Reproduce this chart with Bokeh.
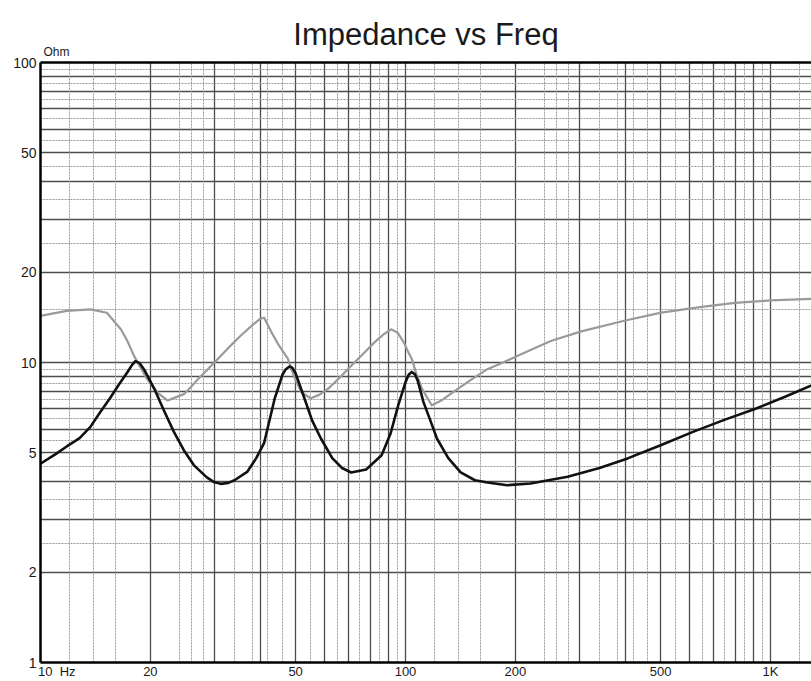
from bokeh.plotting import figure
from bokeh.models import FixedTicker, Grid, Range1d, LogAxis, Title
from bokeh.embed import file_html
from bokeh.resources import INLINE

# ---- data ----
freq_black = [10, 11, 11.8, 12.8, 13.7, 14.6, 15.5, 16.4, 17.3, 17.8, 18.2, 18.7,
              19.3, 20.5, 21.8, 23.2, 24.7, 26.3, 28.5, 29.8, 31.2, 32.7, 34, 36.9,
              39, 41, 43.8, 46, 47, 48.1, 49, 50, 52.9, 55.5, 58.7, 63,
              67, 71, 78, 86, 91, 95.5, 100, 102, 104, 106, 108, 112,
              117, 122, 131, 141.6, 155, 167.6, 190, 220, 278, 340,
              406, 500, 613, 750, 906, 1100, 1300]
imp_black = [4.6, 4.95, 5.25, 5.6, 6.1, 6.85, 7.6, 8.45, 9.28, 9.8, 10.1, 9.95,
             9.4, 8.17, 6.9, 5.87, 5.1, 4.55, 4.15, 4.0, 3.94, 3.97, 4.05, 4.33,
             4.8, 5.4, 7.57, 9.1, 9.5, 9.7, 9.6, 9.2, 7.57, 6.4, 5.57, 4.8,
             4.45, 4.3, 4.4, 4.91, 5.8, 7.2, 8.6, 9.1, 9.3, 9.15, 8.7, 7.38,
             6.4, 5.57, 4.8, 4.3, 4.05, 3.98, 3.9, 3.95, 4.16, 4.45,
             4.79, 5.3, 5.87, 6.45, 7.0, 7.7, 8.4]

freq_grey = [10, 11.8, 13.7, 15.2, 16.6, 17.3, 18.05, 19.6, 21, 22.3, 24.8,
             27, 29.95, 32.5, 35.4, 38, 40, 41, 42.8, 45, 47.6, 49.5,
             51.8, 55, 58, 61.3, 66, 71, 76, 82.2, 87, 91.3,
             95, 98.9, 101.5, 104, 107, 111, 118, 125, 135, 150,
             167.6, 185, 208, 250, 303, 400, 502, 640, 798, 1000, 1300]
imp_grey = [14.3, 14.86, 15.04, 14.65, 12.9, 11.8, 10.5, 8.8, 7.9, 7.47, 7.86,
            8.8, 10.0, 11.1, 12.3, 13.3, 14.0, 14.1, 12.7, 11.4, 10.3, 9.0,
            7.96, 7.6, 7.8, 8.17, 8.9, 9.76, 10.6, 11.67, 12.4, 12.9,
            12.6, 11.67, 10.9, 10.3, 9.2, 8.17, 7.2, 7.45, 7.96, 8.7,
            9.5, 10.0, 10.67, 11.8, 12.7, 13.8, 14.66, 15.3, 15.8, 16.1, 16.3]

x_tick_values = [10, 20, 50, 100, 200, 500, 1000]
x_tick_labels = ["\u00a0" * 9 + "10\u00a0\u00a0Hz", "20", "50", "100", "200", "500", "1K"]
y_tick_values = [1, 2, 5, 10, 20, 50, 100]
y_tick_labels = ["1", "2", "5", "10", "20", "50", "100"]

x_grid_major = [20, 30, 40, 50, 60, 70, 80, 90, 100, 200, 300, 400, 500,
                600, 700, 800, 900, 1000]
x_grid_minor = [12, 14, 16, 24, 26, 28, 34, 38, 42, 46, 55, 65, 75, 85, 95,
                120, 140, 160, 240, 260, 280, 340, 380, 420, 460, 550, 650,
                750, 850, 950, 1200]
y_grid_major = [2, 3, 4, 5, 6, 7, 8, 9, 10, 20, 30, 40, 50, 60, 70, 80, 90]
y_grid_minor = [2.5, 3.5, 4.5, 5.5, 6.5, 7.5, 8.5, 9.5, 15, 25, 35, 45, 55,
                65, 75, 85, 95]

FONT = "Liberation Sans"

p = figure(width=811, height=681, x_axis_type="log", y_axis_type="log",
           x_range=Range1d(10, 1295), y_range=Range1d(1, 100),
           output_backend="svg", toolbar_location=None,
           min_border_left=40, min_border_right=0,
           min_border_top=62, min_border_bottom=16,
           background_fill_color="white", border_fill_color="white")
p.outline_line_color = None

# title
p.title.text = "Impedance vs Freq"
p.title.align = "center"
p.title.text_font = FONT
p.title.text_font_size = "31px"
p.title.text_font_style = "normal"
p.title.text_color = "#1a1a1a"
p.title.standoff = -26

# grids
p.xgrid.ticker = FixedTicker(ticks=x_grid_major)
p.xgrid.grid_line_color = "#4d4d4d"
p.xgrid.grid_line_width = 1.3
p.ygrid.ticker = FixedTicker(ticks=y_grid_major)
p.ygrid.grid_line_color = "#4d4d4d"
p.ygrid.grid_line_width = 1.3
p.add_layout(Grid(dimension=0, ticker=FixedTicker(ticks=x_grid_minor),
                  grid_line_color="#9a9a9a", grid_line_width=1,
                  grid_line_dash="2 1"))
p.add_layout(Grid(dimension=1, ticker=FixedTicker(ticks=y_grid_minor),
                  grid_line_color="#9a9a9a", grid_line_width=1,
                  grid_line_dash="2 1"))

# axes
for ax in (p.xaxis, p.yaxis):
    ax.axis_line_color = "black"
    ax.axis_line_width = 2.5
    ax.major_tick_line_color = None
    ax.minor_tick_line_color = None
    ax.major_tick_out = 0
    ax.major_tick_in = 0
    ax.minor_tick_out = 0
    ax.minor_tick_in = 0
    ax.major_label_text_font = FONT
    ax.major_label_text_color = "#1a1a1a"

p.xaxis.ticker = FixedTicker(ticks=x_tick_values)
p.xaxis.major_label_overrides = {v: t for v, t in zip(x_tick_values, x_tick_labels)}
p.xaxis.major_label_text_font_size = "13px"
p.xaxis.major_label_standoff = 1
p.yaxis.ticker = FixedTicker(ticks=y_tick_values)
p.yaxis.major_label_overrides = {v: t for v, t in zip(y_tick_values, y_tick_labels)}
p.yaxis.major_label_text_font_size = "14px"
p.yaxis.major_label_standoff = 4

top_axis = LogAxis(ticker=FixedTicker(ticks=[]), axis_line_color="black",
                   axis_line_width=2.5, major_tick_line_color=None,
                   minor_tick_line_color=None, major_tick_out=0,
                   major_tick_in=0, minor_tick_out=0, minor_tick_in=0,
                   major_label_standoff=0,
                   major_label_text_font_size="0px")
p.add_layout(top_axis, "above")

# unit label above the frame
p.add_layout(Title(text="Ohm", align="left", offset=3, standoff=8,
                   text_font=FONT, text_font_size="12px",
                   text_font_style="normal", text_color="#1a1a1a"), "above")

# curves
p.line(freq_grey, imp_grey, line_color="#9a9a9a", line_width=2.2,
       line_join="round")
p.line(freq_black, imp_black, line_color="#111111", line_width=2.6,
       line_join="round")

open("out.html", "w").write(file_html(p, INLINE))
